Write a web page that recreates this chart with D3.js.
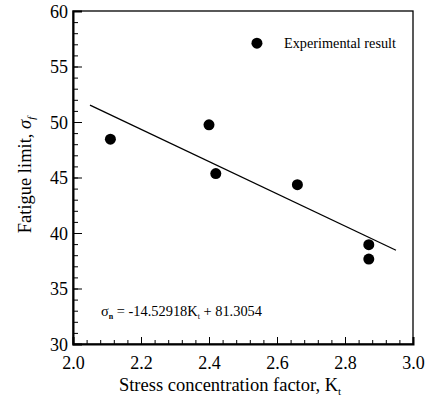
<!DOCTYPE html>
<html>
<head>
<meta charset="utf-8">
<script src="https://cdn.jsdelivr.net/npm/d3@7"></script>
<style>
  body { margin: 0; background: #fff; }
  svg text { font-family: "Liberation Serif", "Times New Roman", serif !important; fill: #000; }
  .axis path, .axis line { stroke: #000; }
</style>
</head>
<body>
<div id="chart"></div>
<script>
var width = 433;
var height = 402;

// measured points: stress concentration factor vs fatigue limit
var kt = [2.11, 2.40, 2.42, 2.66, 2.87, 2.87];
var sigma = [48.45, 49.75, 45.35, 44.35, 38.95, 37.65];

// fitted line
var slope = -14.52918;
var intercept = 81.3054;
var fitRange = [2.05, 2.95];

var xTicks = [2.0, 2.2, 2.4, 2.6, 2.8, 3.0];
var yTicks = [30, 35, 40, 45, 50, 55, 60];

var serif = "Liberation Serif";
var margin = {top: 11, right: 20, bottom: 58, left: 73};

var x = d3.scaleLinear().domain([2.0, 3.0]).range([margin.left, width - margin.right]);
var y = d3.scaleLinear().domain([30, 60]).range([height - margin.bottom, margin.top]);

var svg = d3.select("#chart")
            .append("svg")
            .attr("width", width)
            .attr("height", height);

// frame
svg.append("rect")
   .attr("x", x(2.0))
   .attr("y", y(60))
   .attr("width", x(3.0) - x(2.0))
   .attr("height", y(30) - y(60))
   .attr("fill", "none")
   .attr("stroke", "#000")
   .attr("stroke-width", 1.3);

// minor ticks
svg.append("g")
   .attr("class", "axis")
   .attr("transform", `translate(0, ${y(30)})`)
   .call(d3.axisBottom(x).tickValues(d3.range(2.0, 3.001, 0.04)).tickSize(-4).tickFormat(""))
   .call(g => g.select(".domain").remove());

svg.append("g")
   .attr("class", "axis")
   .attr("transform", `translate(${x(2.0)}, 0)`)
   .call(d3.axisLeft(y).tickValues(d3.range(30, 60.01, 1)).tickSize(-5).tickFormat(""))
   .call(g => g.select(".domain").remove());

// major ticks + labels
svg.append("g")
   .attr("class", "axis")
   .attr("transform", `translate(0, ${y(30)})`)
   .call(d3.axisBottom(x).tickValues(xTicks).tickSize(-7).tickPadding(12).tickFormat(d3.format(".1f")))
   .attr("font-family", null)
   .attr("font-size", null)
   .call(g => g.select(".domain").attr("stroke-width", 2))
   .call(g => g.selectAll("text").attr("font-family", serif).attr("font-size", 18));

svg.append("g")
   .attr("class", "axis")
   .attr("transform", `translate(${x(2.0)}, 0)`)
   .call(d3.axisLeft(y).tickValues(yTicks).tickSize(-9).tickPadding(5))
   .attr("font-family", null)
   .attr("font-size", null)
   .call(g => g.select(".domain").attr("stroke-width", 2))
   .call(g => g.selectAll("text").attr("font-family", serif).attr("font-size", 18).attr("dy", "0.34em"));

// regression line
svg.append("path")
   .datum(fitRange)
   .attr("fill", "none")
   .attr("stroke", "#000")
   .attr("stroke-width", 1.3)
   .attr("d", d3.line().x(d => x(d)).y(d => y(slope * d + intercept)));

// points
svg.selectAll("circle.pt")
   .data(kt)
   .enter()
   .append("circle")
   .attr("class", "pt")
   .attr("cx", d => x(d))
   .attr("cy", (d, i) => y(sigma[i]))
   .attr("r", 5.5)
   .attr("fill", "#000");

// legend
svg.append("circle")
   .attr("cx", x(2.541))
   .attr("cy", y(57.1))
   .attr("r", 5.5)
   .attr("fill", "#000");

svg.append("text")
   .attr("x", 284)
   .attr("y", y(57.1) + 5)
   .attr("textLength", 112)
   .attr("lengthAdjust", "spacingAndGlyphs")
   .style("font-size", "15px")
   .text("Experimental result");

// equation
var eq = svg.append("text")
   .attr("x", 101)
   .attr("y", 316)
   .attr("textLength", 161)
   .attr("lengthAdjust", "spacingAndGlyphs")
   .style("font-size", "14.5px");
eq.append("tspan").text("σ");
eq.append("tspan").attr("dy", 3).style("font-size", "8px").style("font-weight", "bold").text("n");
eq.append("tspan").attr("dy", -3).text(" = -14.52918K");
eq.append("tspan").attr("dy", 3).style("font-size", "8px").text("t");
eq.append("tspan").attr("dy", -3).text(" + 81.3054");

// axis titles
var xt = svg.append("text")
   .attr("x", 230)
   .attr("y", 391)
   .attr("text-anchor", "middle")
   .style("font-size", "18.5px")
   .text("Stress concentration factor, K");
xt.append("tspan").attr("dy", 4).style("font-size", "11px").text("t");

var yt = svg.append("text")
   .attr("transform", "translate(31, 175) rotate(-90)")
   .attr("text-anchor", "middle")
   .style("font-size", "18.5px")
   .text("Fatigue limit, ");
yt.append("tspan").style("font-style", "italic").text("σ");
yt.append("tspan").attr("dy", 4).style("font-size", "11px").style("font-style", "italic").text("f");
</script>
</body>
</html>
